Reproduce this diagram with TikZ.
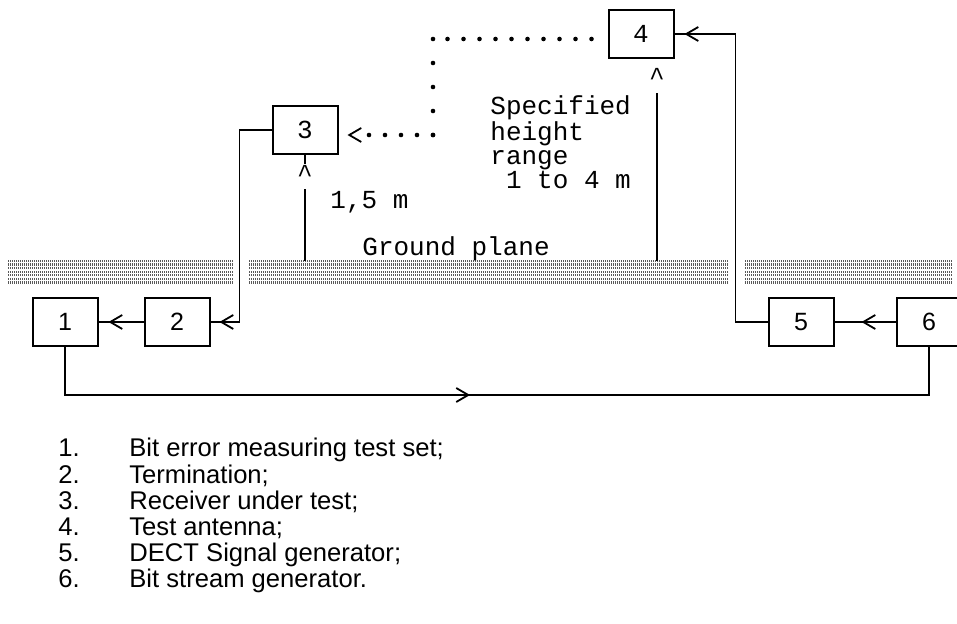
\documentclass[tikz,border=0pt]{standalone}
\usepackage{fontspec}
\setmainfont{Liberation Sans}
\newfontfamily\asciifont{Liberation Mono}
\usetikzlibrary{arrows.meta, calc, decorations.markings}

\tikzset{
  unit/.style={draw, line width=1pt, minimum width=32.5pt, minimum height=24pt,
    inner sep=0pt, font=\fontsize{12.5}{14}\selectfont},
  monounit/.style={unit, font=\asciifont\fontsize{13}{12}\selectfont},
  monotext/.style={inner sep=0pt, font=\asciifont\fontsize{13}{12}\selectfont},
  wire/.style={line width=0.9pt},
  dim/.style={line width=0.7pt},
  hatch/.style={line width=1.1pt, black!65, dash pattern=on 0.5pt off 0.5pt},
  dotrow/.style={line width=2.3pt, line cap=round, dash pattern=on 0pt off 8pt},
  dotcol/.style={line width=2.3pt, line cap=round, dash pattern=on 0pt off 12pt},
  chev/.style={postaction={decorate, decoration={markings,
    mark=at position #1 with {\arrow{Straight Barb[length=6pt, width=7pt, line width=0.9pt]}}}}},
  legend/.style={inner sep=0pt, anchor=base west, font=\fontsize{12.8}{14}\selectfont}
}

\begin{document}
\begin{tikzpicture}[x=0.5pt, y=-0.5pt]
  \useasboundingbox (0,0) rectangle (957,624);

  % ground plane
  \foreach \xa/\xb in {8/234, 249/729, 745/953}
    \foreach \yy in {261,264.6,...,286}
      \draw[hatch] (\xa,\yy) -- (\xb,\yy);
  \node[monotext, anchor=base west] (gnd) at (362,256) {Ground plane};

  % units
  \node[unit] (b1) at (65,322) {1};
  \node[unit] (b2) at (177,322) {2};
  \node[monounit] (b3) at (305,130) {3};
  \node[monounit] (b4) at (641,34) {4};
  \node[unit] (b5) at (801,322) {5};
  \node[unit] (b6) at (929,322) {6};

  % cables
  \draw[wire, chev=-5pt] (b2.west) -- (b1.east);
  \draw[wire, chev=-4.5pt] (b3.west) -- ++(-32,0) |- (b2.east);
  \draw[wire, chev=-13.5pt] (b6.west) -- (b5.east);
  \draw[wire, chev=-5pt] (b5.west) -- ++(-32,0) |- (b4.east);
  \draw[wire, chev=226.5pt] (b1.south) -- ++(0,48) -| (b6.south);

  % radio path
  \coordinate (dtop) at (433,39);
  \coordinate (dbot) at (433,135);
  \draw[dotrow] ($(b4.west)+(-16,5)$) -- (dtop);
  \draw[dotcol] (dtop) -- (dbot);
  \draw[dotrow, shorten >=13pt, chev=-4.5pt] (dbot) -- (b3.east |- dbot);

  % heights
  \node[monotext] (c3) at (305,174) {\textasciicircum};
  \node[monotext] (c4) at (657,77) {\textasciicircum};
  \coordinate (g3) at (305,261);
  \coordinate (g4) at (657,261);
  \draw[dim] (b3.south) -- ++(0,9);
  \draw[dim] (g3) -- ++(0,-72);
  \draw[dim] (g4) -- ++(0,-168);
  \node[monotext, anchor=base west] (h3) at (330,209) {1,5 m};
  \node[monotext, anchor=north west, align=left] (h4) at (490,95)
    {Specified\\height\\range\\\hphantom{0}1 to 4 m};

  % key
  \foreach \t [count=\n] in {{Bit error measuring test set;}, {Termination;},
      {Receiver under test;}, {Test antenna;}, {DECT Signal generator;},
      {Bit stream generator.}} {
    \node[legend] (num\n) at (58,431+26*\n) {\n.};
    \node[legend] (key\n) at (129,431+26*\n) {\t};
  }
\end{tikzpicture}
\end{document}
